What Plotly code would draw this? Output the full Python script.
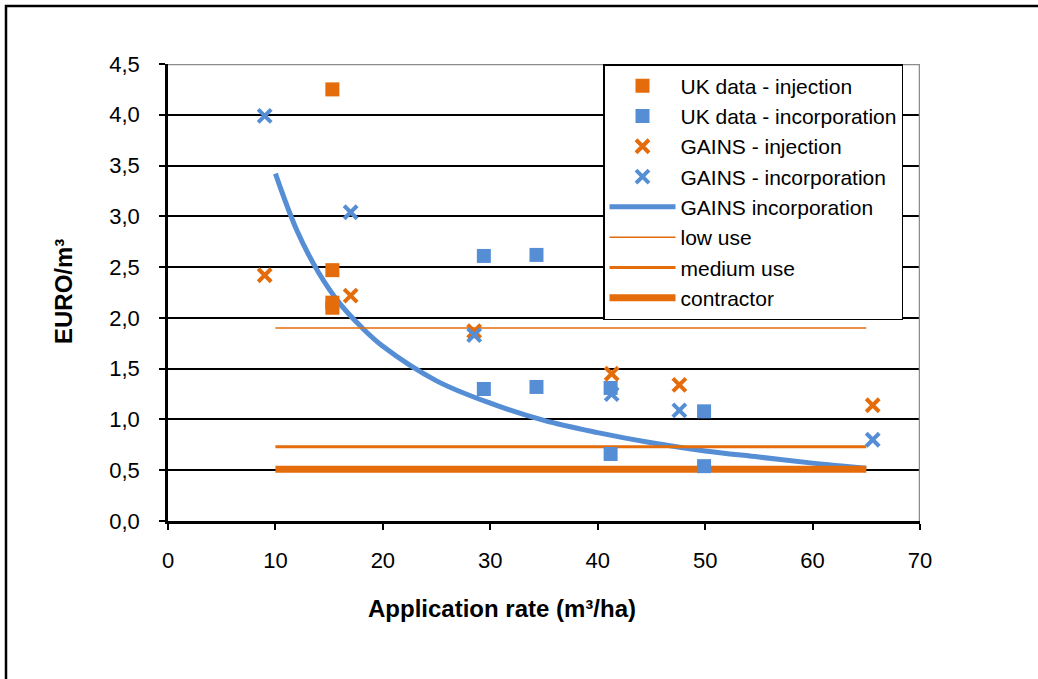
import plotly.graph_objects as go

# ---- data ----
uk_inj_x = [15.3, 15.3, 15.3, 15.3]
uk_inj_y = [4.25, 2.47, 2.15, 2.10]

uk_inc_x = [29.4, 34.3, 29.4, 34.3, 41.2, 41.2, 49.9, 49.9]
uk_inc_y = [2.61, 2.62, 1.30, 1.32, 1.31, 0.66, 1.08, 0.54]

gains_inj_x = [9.0, 17.0, 28.5, 41.3, 47.6, 65.6]
gains_inj_y = [2.42, 2.22, 1.87, 1.45, 1.34, 1.14]

gains_inc_x = [9.0, 17.0, 28.5, 41.3, 47.6, 65.6]
gains_inc_y = [3.99, 3.04, 1.83, 1.25, 1.09, 0.80]

curve_x = [10, 12, 14, 16, 18, 20, 25, 30, 35, 40, 45, 50, 55, 60, 65]
curve_y = [3.42, 2.86, 2.45, 2.14, 1.91, 1.72, 1.38, 1.16, 0.99, 0.87, 0.77, 0.69, 0.63, 0.57, 0.52]

level_x = [10, 65]
low_use_y = [1.90, 1.90]
medium_use_y = [0.73, 0.73]
contractor_y = [0.51, 0.51]

x_ticks = [0, 10, 20, 30, 40, 50, 60, 70]
y_ticks = [0, 0.5, 1.0, 1.5, 2.0, 2.5, 3.0, 3.5, 4.0, 4.5]

ORANGE = "#E46C0A"
BLUE = "#558ED5"
FONT = "Liberation Sans, Arial, sans-serif"

fig = go.Figure()

# lines first (drawn under markers), legend order via legendrank
fig.add_trace(go.Scatter(x=curve_x, y=curve_y, mode="lines", name="GAINS incorporation",
                         line=dict(color=BLUE, width=5, shape="spline"), legendrank=5))
fig.add_trace(go.Scatter(x=level_x, y=low_use_y, mode="lines", name="low use",
                         line=dict(color=ORANGE, width=1.5), legendrank=6))
fig.add_trace(go.Scatter(x=level_x, y=medium_use_y, mode="lines", name="medium use",
                         line=dict(color=ORANGE, width=3), legendrank=7))
fig.add_trace(go.Scatter(x=level_x, y=contractor_y, mode="lines", name="contractor",
                         line=dict(color=ORANGE, width=7), legendrank=8))

fig.add_trace(go.Scatter(x=uk_inj_x, y=uk_inj_y, mode="markers", name="UK data - injection",
                         marker=dict(symbol="square", size=14, color=ORANGE), legendrank=1))
fig.add_trace(go.Scatter(x=uk_inc_x, y=uk_inc_y, mode="markers", name="UK data - incorporation",
                         marker=dict(symbol="square", size=14, color=BLUE), legendrank=2))
fig.add_trace(go.Scatter(x=gains_inj_x, y=gains_inj_y, mode="markers", name="GAINS - injection",
                         marker=dict(symbol="x-thin", size=13, color=ORANGE,
                                     line=dict(color=ORANGE, width=4)), legendrank=3))
fig.add_trace(go.Scatter(x=gains_inc_x, y=gains_inc_y, mode="markers", name="GAINS - incorporation",
                         marker=dict(symbol="x-thin", size=13, color=BLUE,
                                     line=dict(color=BLUE, width=4)), legendrank=4))

L, R, T, B = 168, 118, 64, 158
W, H = 1038, 679
pw, ph = W - L - R, H - T - B

fig.update_layout(
    width=W, height=H,
    margin=dict(l=L, r=R, t=T, b=B, pad=0),
    paper_bgcolor="white", plot_bgcolor="white",
    separators=",.",
    font=dict(family=FONT, size=21, color="black"),
    showlegend=True,
    legend=dict(x=(603 - L) / pw, y=1, xanchor="left", yanchor="top",
                bgcolor="white", bordercolor="black", borderwidth=1.5,
                font=dict(family=FONT, size=21, color="black"),
                tracegroupgap=0, itemwidth=66),
    xaxis=dict(range=[0, 70], tickvals=x_ticks, ticktext=[str(v) for v in x_ticks],
               showgrid=False, zeroline=False, showline=True, linecolor="black", linewidth=2.5,
               ticks="outside", ticklen=6, tickwidth=2, tickcolor="black", ticklabelstandoff=12,
               tickfont=dict(family=FONT, size=22, color="black")),
    yaxis=dict(range=[0, 4.5], tickvals=y_ticks, tickformat=".1f",
               showgrid=True, gridcolor="black", gridwidth=1.5, zeroline=False,
               showline=True, linecolor="black", linewidth=2.5,
               ticks="outside", ticklen=6, tickwidth=2, tickcolor="black", ticklabelstandoff=15,
               tickfont=dict(family=FONT, size=22, color="black")),
    shapes=[
        # plot area top and right border (gray)
        dict(type="line", xref="x", yref="y", x0=0, x1=70, y0=4.5, y1=4.5,
             line=dict(color="#8c8c8c", width=2.5), layer="above"),
        dict(type="line", xref="x", yref="y", x0=70, x1=70, y0=0, y1=4.5,
             line=dict(color="#8c8c8c", width=2.5), layer="above"),
        # outer chart frame
        dict(type="rect", xref="paper", yref="paper",
             x0=(6 - L) / pw, x1=(W + 20 - L) / pw,
             y0=-(H + 20 - (H - B)) / ph, y1=(H - B - 6) / ph,
             line=dict(color="black", width=2.5), fillcolor="rgba(0,0,0,0)", layer="above"),
    ],
    annotations=[
        dict(text="<b>EURO/m³</b>", xref="paper", yref="paper",
             x=(63 - L) / pw, y=(H - B - 292) / ph, textangle=-90, showarrow=False,
             xanchor="center", yanchor="middle", font=dict(family=FONT, size=24, color="black")),
        dict(text="<b>Application rate (m³/ha)</b>", xref="paper", yref="paper",
             x=(502 - L) / pw, y=(H - B - 608) / ph, showarrow=False,
             xanchor="center", yanchor="middle", font=dict(family=FONT, size=24, color="black")),
    ],
)

fig.write_html("out.html", config={"displayModeBar": False},
               post_script="document.body.style.margin='0px';document.body.style.overflow='hidden';")
